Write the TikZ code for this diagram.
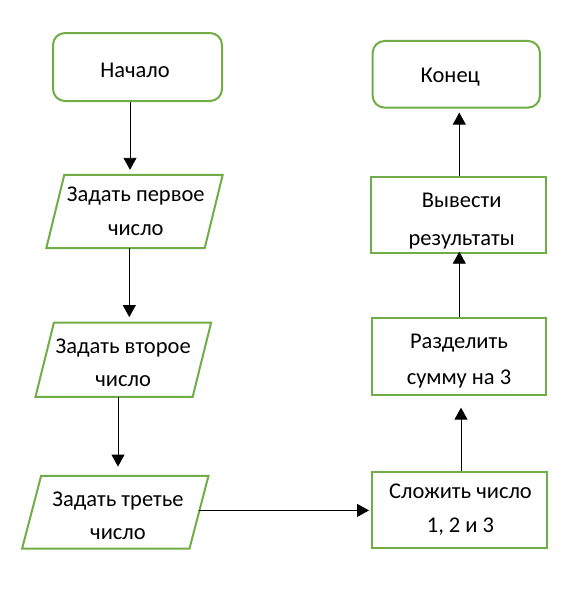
\documentclass[tikz,border=0pt]{standalone}
\usepackage{fontspec}
\setmainfont{Carlito}
\usetikzlibrary{arrows.meta}
\definecolor{grn}{RGB}{112,173,71}
\newcommand\drawpara[2]{\draw[base] ([xshift=#2]#1.north west) -- (#1.north east) -- ([xshift=-#2]#1.south east) -- (#1.south west) -- cycle;}
\begin{document}
\begin{tikzpicture}[x=1pt,y=-1pt,
  base/.style={draw=grn, line width=2pt, inner sep=0pt, line join=miter},
  term/.style={base, rectangle, rounded corners=12pt},
  proc/.style={base, rectangle},
  io/.style={rectangle, inner sep=0pt},
  lbl/.style={anchor=base, inner sep=0pt, font=\fontsize{22.5}{#1}\selectfont},
  arr/.style={-{Triangle[length=12pt,width=13pt]}, line width=0.9pt, black}]
\useasboundingbox (0,0) rectangle (588,608);
% shapes
\node[term, minimum width=169pt, minimum height=68pt] (start) at (137.5,67) {};
\node[io, minimum width=176pt, minimum height=73pt] (io1) at (134.5,211.5) {};
\node[io, minimum width=175.3pt, minimum height=74pt] (io2) at (123.3,359.7) {};
\node[io, minimum width=186pt, minimum height=72.3pt] (io3) at (115.3,512.2) {};
\drawpara{io1}{18pt}
\drawpara{io2}{18.5pt}
\drawpara{io3}{19pt}
\node[proc, minimum width=174.4pt, minimum height=76.6pt] (sum) at (459.5,510) {};
\node[proc, minimum width=174pt, minimum height=76.5pt] (div) at (458.7,356.7) {};
\node[proc, minimum width=174.7pt, minimum height=76.6pt] (out) at (458.3,215) {};
\node[term, minimum width=167.3pt, minimum height=66.7pt] (end) at (456.3,74.3) {};
% texts
\node[lbl=27] (tstart) at (135,77.3) {Начало};
\node[lbl=33.3] (tio1) at (135.8,201.7) {\begin{tabular}[t]{@{}c@{}}Задать первое\\число\end{tabular}};
\node[lbl=33.4] (tio2) at (123.2,353.3) {\begin{tabular}[t]{@{}c@{}}Задать второе\\число\end{tabular}};
\node[lbl=33.3] (tio3) at (118,506) {\begin{tabular}[t]{@{}c@{}}Задать третье\\число\end{tabular}};
\node[lbl=34.4] (tsum) at (460.5,498.3) {\begin{tabular}[t]{@{}c@{}}Сложить число\\1, 2 и 3\end{tabular}};
\node[lbl=35.7] (tdiv) at (459,348.3) {\begin{tabular}[t]{@{}c@{}}Разделить\\сумму на 3\end{tabular}};
\node[lbl=38] (tout) at (461.7,207.7) {\begin{tabular}[t]{@{}c@{}}Вывести\\результаты\end{tabular}};
\node[lbl=27] (tend) at (450.3,82.3) {Конец};
% connectors
\draw[arr, shorten >=5pt] ([xshift=-7.5pt]start.south) -- ([xshift=-7.5pt]start.south |- io1.north);
\draw[arr, shorten >=5.4pt] ([xshift=-5.2pt]io1.south) -- ([xshift=-5.2pt]io1.south |- io2.north);
\draw[arr, shorten >=9.3pt] ([xshift=-5.3pt]io2.south) -- ([xshift=-5.3pt]io2.south |- io3.north);
\draw[arr, shorten >=2.3pt] ([xshift=-9.3pt,yshift=1.8pt]io3.east) -- ([yshift=1.8pt]io3.east -| sum.west);
\draw[arr, shorten >=11.7pt] ([xshift=1.5pt]sum.north) -- ([xshift=1.5pt]sum.north |- div.south);
\draw[arr, shorten >=-2.6pt] ([xshift=0.6pt]div.north) -- ([xshift=0.6pt]div.north |- out.south);
\draw[arr, shorten >=4pt] ([xshift=1pt]out.north) -- ([xshift=1pt]out.north |- end.south);
\end{tikzpicture}
\end{document}
